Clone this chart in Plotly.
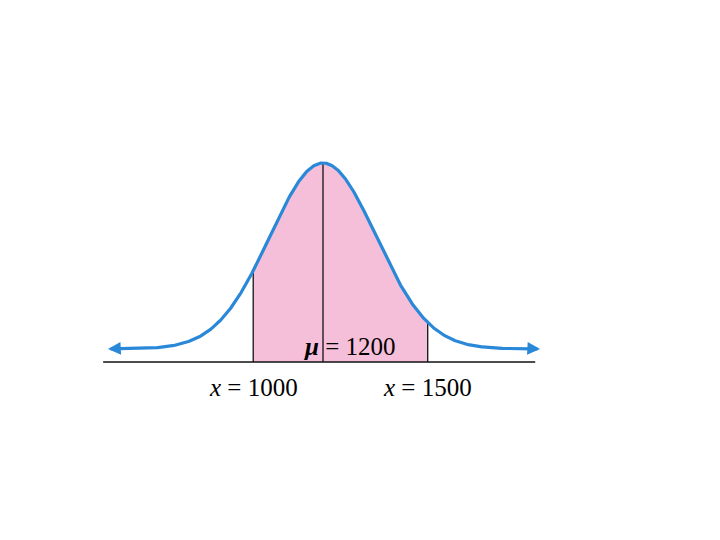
import numpy as np
import plotly.graph_objects as go

# Chart values
mu = 1200
sigma = 152
shade_bounds = [1000, 1500]
labels = ["<i>x</i> = 1000", "<i>x</i> = 1500"]
mu_label = "<b><i>μ</i></b> = 1200"
curve_min, curve_max = 584, 1822
peak_height = 186
base_offset = 13

BLUE = "#2a88d8"
PINK = "#f6bfd9"

def curve(x):
    return base_offset + peak_height * np.exp(-0.5 * ((x - mu) / sigma) ** 2)

xs = np.linspace(curve_min + 8, curve_max - 8, 600)
xf = np.linspace(shade_bounds[0], shade_bounds[1], 300)

fig = go.Figure()
# shaded region
fig.add_trace(go.Scatter(
    x=np.concatenate([[shade_bounds[0]], xf, [shade_bounds[1]]]),
    y=np.concatenate([[0], curve(xf), [0]]),
    fill="toself", fillcolor=PINK, line=dict(width=0), mode="lines",
    hoverinfo="skip", showlegend=False))
# vertical lines
for xv in [shade_bounds[0], mu, shade_bounds[1]]:
    fig.add_trace(go.Scatter(x=[xv, xv], y=[0, float(curve(xv))], mode="lines",
                             line=dict(color="#111111", width=1.3),
                             hoverinfo="skip", showlegend=False))
# baseline
fig.add_trace(go.Scatter(x=[570, 1808], y=[0, 0], mode="lines",
                         line=dict(color="#111111", width=1.5),
                         hoverinfo="skip", showlegend=False))
# curve
fig.add_trace(go.Scatter(x=xs, y=curve(xs), mode="lines",
                         line=dict(color=BLUE, width=3.2),
                         hoverinfo="skip", showlegend=False))

annotations = []
# arrowheads
for head, tail in [(curve_min, curve_min + 30), (curve_max, curve_max - 30)]:
    annotations.append(dict(x=head, y=float(curve(head)), ax=tail, ay=float(curve(tail)) + 0.5,
                            xref="x", yref="y", axref="x", ayref="y",
                            showarrow=True, arrowhead=2, arrowsize=0.85,
                            arrowwidth=3, arrowcolor=BLUE, text=""))
for xv, lab in zip(shade_bounds, labels):
    annotations.append(dict(x=xv, y=-25, xref="x", yref="y", text=lab,
                            showarrow=False, xanchor="center", yanchor="middle",
                            font=dict(family="Liberation Serif", size=25, color="#000000")))
annotations.append(dict(x=mu - 62, y=16, xref="x", yref="y", text=mu_label,
                        showarrow=False, xanchor="left", yanchor="middle",
                        font=dict(family="Liberation Serif", size=25, color="#000000")))

fig.update_layout(
    width=720, height=540,
    margin=dict(l=0, r=0, t=0, b=0),
    paper_bgcolor="white", plot_bgcolor="white",
    annotations=annotations,
    xaxis=dict(range=[297.4, 2360.4], visible=False, fixedrange=True),
    yaxis=dict(range=[-186, 354], visible=False, fixedrange=True),
)
fig.write_html("out.html")
